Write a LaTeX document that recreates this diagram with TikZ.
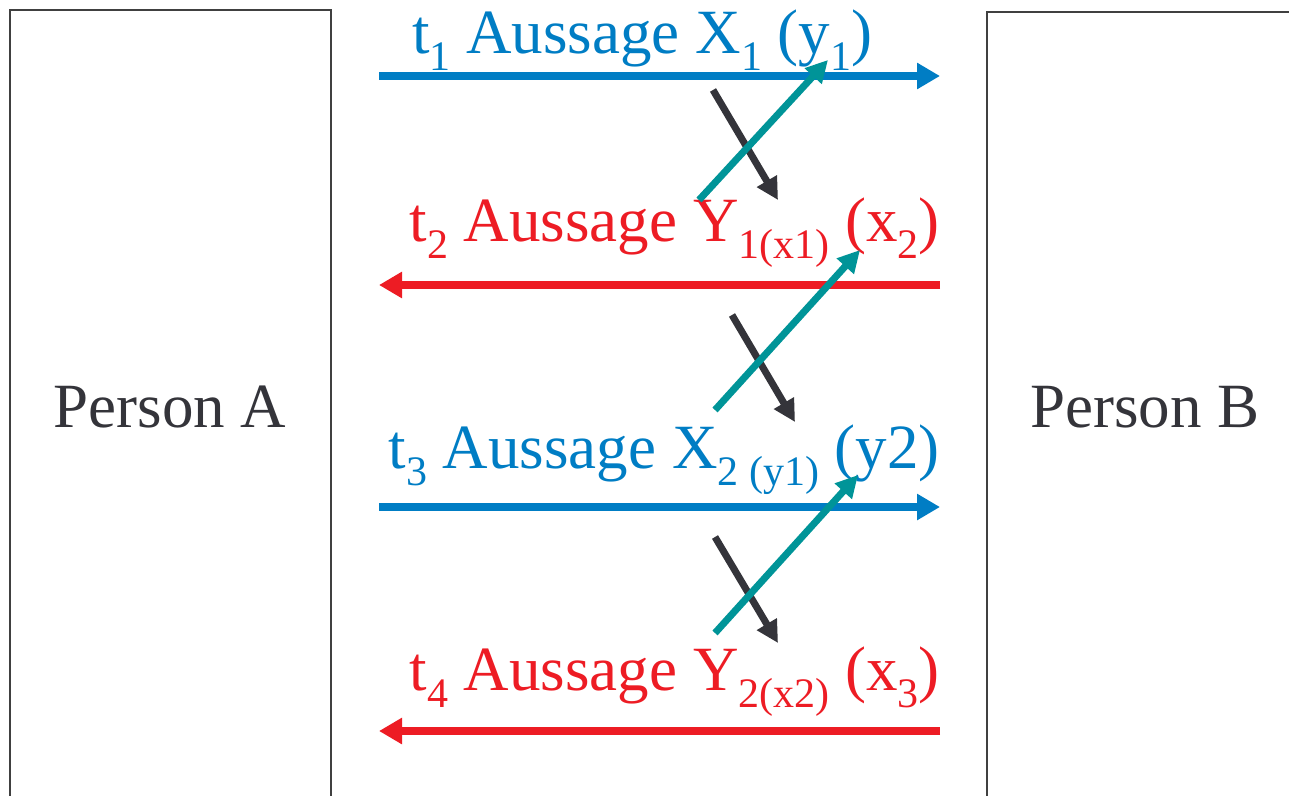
\documentclass[tikz,border=0pt]{standalone}
\usepackage{fontspec}
\setmainfont{Liberation Serif}
\usetikzlibrary{arrows.meta}

\definecolor{msgblue}{RGB}{0,125,196}
\definecolor{msgred}{RGB}{237,28,36}
\definecolor{linkteal}{RGB}{0,148,152}
\definecolor{linkdark}{RGB}{52,52,58}
\definecolor{boxgray}{RGB}{64,64,64}

\newcommand{\lowsub}[1]{\raisebox{-17pt}{\fontsize{42}{42}\selectfont #1}}

\begin{document}
\begin{tikzpicture}[x=1pt,y=-1pt,
    msg/.style={line width=8pt,-{Triangle[length=23pt,width=25pt]}},
    link/.style={line width=7pt,-{Triangle[length=22pt,width=22pt]}},
    lbl/.style={inner sep=0pt,font=\fontsize{63}{70}\selectfont}]

\useasboundingbox (0,0) rectangle (1289,795);

% Persons
\draw[boxgray,line width=2pt] (10,805) -- (10,10) -- (331,10) -- (331,805);
\draw[boxgray,line width=2pt] (987,805) -- (987,12) -- (1295,12);
\node[lbl,text=linkdark,anchor=base] (pa) at (170,427) {Person A};
\node[lbl,text=linkdark,anchor=base] (pb) at (1145,427) {Person B};

% Messages
\coordinate (a1) at (379,76);  \coordinate (b1) at (940,76);
\coordinate (a2) at (379,285); \coordinate (b2) at (940,285);
\coordinate (a3) at (379,507); \coordinate (b3) at (940,507);
\coordinate (a4) at (379,731); \coordinate (b4) at (940,731);
\draw[msg,msgblue] (a1) -- (b1);
\draw[msg,msgred] (b2) -- (a2);
\draw[msg,msgblue] (a3) -- (b3);
\draw[msg,msgred] (b4) -- (a4);

% Labels
\node[lbl,text=msgblue,anchor=base west] (m1) at (412,53)
  {t\lowsub{1} Aussage X\lowsub{1} (y\lowsub{1})};
\node[lbl,text=msgred,anchor=base east] (m2) at (940,241)
  {t\lowsub{2} Aussage Y\lowsub{1(x1)} (x\lowsub{2})};
\node[lbl,text=msgblue,anchor=base east] (m3) at (940,468)
  {t\lowsub{3} Aussage X\lowsub{2 (y1)} (y2)};
\node[lbl,text=msgred,anchor=base east] (m4) at (940,690)
  {t\lowsub{4} Aussage Y\lowsub{2(x2)} (x\lowsub{3})};

% Replies (dark)
\coordinate (d1) at (713,90);  \coordinate (e1) at (778,200);
\coordinate (d2) at (732,315); \coordinate (e2) at (795,422);
\coordinate (d3) at (715,537); \coordinate (e3) at (778,643);
\draw[link,linkdark] (d1) -- (e1);
\draw[link,linkdark] (d2) -- (e2);
\draw[link,linkdark] (d3) -- (e3);

% Replies (teal)
\coordinate (f1) at (699,200); \coordinate (g1) at (828,60);
\coordinate (f2) at (715,410); \coordinate (g2) at (860,250);
\coordinate (f3) at (715,633); \coordinate (g3) at (858,475);
\draw[link,linkteal] (f1) -- (g1);
\draw[link,linkteal] (f2) -- (g2);
\draw[link,linkteal] (f3) -- (g3);

\end{tikzpicture}
\end{document}
